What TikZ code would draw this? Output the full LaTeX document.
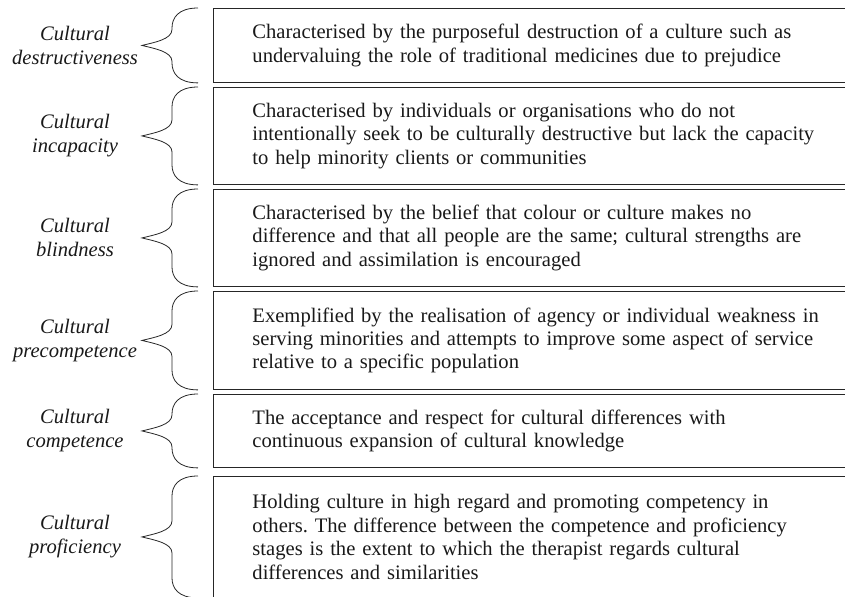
\documentclass[tikz,border=0pt]{standalone}
\usepackage{fontspec}
\setmainfont{Liberation Serif}
\usetikzlibrary{calc,positioning}
\frenchspacing

\newcommand\stagebrace[1]{%
  \draw[bracel] let \p1=(#1.north west), \p2=(#1.south west), \p3=(#1.west) in
  ({\x1-15bp},\y1) .. controls +(-20bp,0) and +(0,10bp) .. ({\x1-41bp},{\y1-20bp})
  -- ({\x1-41bp},{\y3+16bp}) .. controls +(0,-10bp) and +(12bp,3bp) .. ({\x1-71bp},\y3)
  .. controls +(12bp,-3bp) and +(0,10bp) .. ({\x1-41bp},{\y3-16bp})
  -- ({\x1-41bp},{\y2+20bp}) .. controls +(0,-10bp) and +(-20bp,0) .. ({\x1-15bp},\y2);}

\begin{document}
\begin{tikzpicture}[x=1bp,y=-1bp,
  every node/.style={text=black!90,font=\fontsize{20.6bp}{23.4bp}\selectfont},
  desc/.style={draw=black!85,line width=.9bp,anchor=north west,text width=636bp,
    inner xsep=0pt,align=left,execute at begin node={\leftskip=39bp}},
  stage/.style={align=center,font=\fontsize{20.6bp}{24bp}\selectfont\itshape},
  bracel/.style={draw=black!85,line width=.8bp}]
  \useasboundingbox (0,0) rectangle (845,597);
  \coordinate (lc) at (75,0);

  \node[desc,minimum height=74bp] (d1) at (213,8) {Characterised by the purposeful destruction of a culture such as\\
    undervaluing the role of traditional medicines due to prejudice};
  \node[desc,minimum height=97bp] (d2) at (213,87) {Characterised by individuals or organisations who do not\\
    intentionally seek to be culturally destructive but lack the capacity\\
    to help minority clients or communities};
  \node[desc,minimum height=97bp] (d3) at (213,189) {Characterised by the belief that colour or culture makes no\\
    difference and that all people are the same; cultural strengths are\\
    ignored and assimilation is encouraged};
  \node[desc,minimum height=98bp] (d4) at (213,291) {Exemplified by the realisation of agency or individual weakness in\\
    serving minorities and attempts to improve some aspect of service\\
    relative to a specific population};
  \node[desc,minimum height=73bp] (d5) at (213,394) {The acceptance and respect for cultural differences with\\
    continuous expansion of cultural knowledge};
  \node[desc,minimum height=121bp] (d6) at (213,476) {Holding culture in high regard and promoting competency in\\
    others. The difference between the competence and proficiency\\
    stages is the extent to which the therapist regards cultural\\
    differences and similarities};

  \node[stage] (s1) at (lc |- d1.west) {Cultural\\destructiveness};
  \node[stage] (s2) at (lc |- d2.west) {Cultural\\incapacity};
  \node[stage] (s3) at (lc |- d3.west) {Cultural\\blindness};
  \node[stage] (s4) at (lc |- d4.west) {Cultural\\precompetence};
  \node[stage] (s5) at (lc |- d5.west) {Cultural\\competence};
  \node[stage] (s6) at (lc |- d6.west) {Cultural\\proficiency};

  \stagebrace{d1}
  \stagebrace{d2}
  \stagebrace{d3}
  \stagebrace{d4}
  \stagebrace{d5}
  \stagebrace{d6}
\end{tikzpicture}
\end{document}
